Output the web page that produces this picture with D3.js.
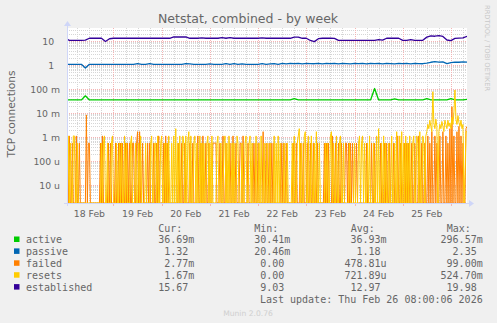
<!DOCTYPE html>
<html>
  <head>
    <meta charset="UTF-8" />
    <style>
      body {
        margin: 0;
        background: #f0f0f0;
      }
      svg text {
        font-family: 'DejaVu Sans', sans-serif;
        fill: #666;
      }
      svg text.mono {
        font-family: 'DejaVu Sans Mono', monospace;
        font-size: 10px;
      }
    </style>
  </head>
  <body>
    <svg></svg>

    <script src="https://d3js.org/d3.v7.min.js"></script>

    <script>
      // 2 hour samples, starting Feb 18 00:00 UTC
      let slowStart = Date.UTC(2026, 1, 18, 0, 0)
      let established = [
        13, 10.7, 10.7, 10.7, 10.7, 10.8, 13, 13, 13, 13, 9.6, 12.4,
        13, 13, 13, 13, 13, 13, 13, 13, 13, 13, 13, 13, 13, 13, 13,
        14.7, 14.7, 14.7, 14.7, 13,
        13, 13, 13.6, 13, 13, 13, 13, 13.8, 13, 13.8, 13, 13, 13, 13, 13, 13, 13, 13.5, 13, 13, 13, 13, 13, 13, 13,
        14.5, 14.5,
        13, 13, 10.5, 9.4, 12.5, 13, 13, 13, 12.8,
        10.7, 10.7, 10.7, 10.7, 10.7, 10.7, 10.7, 10.7, 10.7, 10.7,
        11.3, 10.8,
        13, 13, 13, 13,
        10.7, 10.7, 11.4, 10.7, 10.7, 10.7,
        14.5, 16.5, 15.8, 16.8, 15.5, 11, 10.4, 12.8, 13.3, 13.5, 15.67,
      ]
      let passive = [
        1.07, 1.07, 1.07, 1.07, 1.07, 0.75,
        1.07, 1.07, 1.07, 1.07, 1.07, 1.07, 1.07, 1.07, 1.07, 1.07, 1.07, 1.07,
        1.15, 1.07, 1.07, 1.15, 1.07, 1.07, 1.07, 1.07, 1.07, 1.07, 1.07, 1.07,
        1.15, 1.12, 1.07, 1.07, 1.07, 1.07, 1.12, 1.07, 1.07, 1.07, 1.15, 1.07,
        1.15, 1.07, 1.12, 1.07, 1.07, 1.07, 1.07, 1.15, 1.07, 1.12, 1.15, 1.07,
        1.17, 1.12, 1.18, 1.14, 1.17, 1.12, 1.18, 1.15, 1.13, 1.18, 1.12, 1.17,
        1.14, 1.18, 1.12, 1.17, 1.15, 1.12, 1.18, 1.13, 1.17, 1.12, 1.18, 1.14,
        1.17, 1.12, 1.18, 1.15, 1.12, 1.17, 1.14, 1.18, 1.12, 1.17, 1.15, 1.13, 1.2,
        1.3, 1.38, 1.33, 1.36, 1.15, 1.25, 1.33, 1.3, 1.36, 1.32,
      ]
      let active = [
        0.035, 0.035, 0.035, 0.035, 0.035, 0.052, 0.035, 0.035, 0.035, 0.035,
        0.035, 0.035, 0.035, 0.035, 0.035, 0.035, 0.035, 0.035, 0.035, 0.035,
        0.035, 0.035, 0.035, 0.035, 0.035, 0.035, 0.035, 0.035, 0.035, 0.035,
        0.035, 0.035, 0.035, 0.035, 0.035, 0.035, 0.035, 0.035, 0.035, 0.035,
        0.035, 0.035, 0.035, 0.035, 0.035, 0.035, 0.035, 0.035, 0.035, 0.035,
        0.035, 0.035, 0.035, 0.035, 0.035, 0.035, 0.035, 0.04, 0.035, 0.035,
        0.035, 0.035, 0.035, 0.035, 0.035, 0.035, 0.035, 0.035, 0.035, 0.035,
        0.035, 0.035, 0.035, 0.035, 0.035, 0.035, 0.035, 0.105, 0.035, 0.035,
        0.035, 0.035, 0.039, 0.035, 0.035, 0.035, 0.035, 0.035, 0.035, 0.035,
        0.04, 0.035, 0.035, 0.035, 0.035, 0.035, 0.04, 0.035, 0.035, 0.035,
        0.0367,
      ]

      // 30 minute samples (counts per step), starting Feb 18 00:30 UTC
      let fastStart = Date.UTC(2026, 1, 18, 0, 30)
      let STEP = 1800
      let failed = [
        0,1,0,2,0,0,1,0,0,0,2,0,0,1,0,0,0,0,0,0,
        15,0,1,1,0,0,0,0,0,0,0,0,0,0,1,0,2,0,0,0,
        0,0,1,0,1,0,0,0,0,1,0,0,1,0,1,0,1,0,0,1,
        0,1,0,1,0,0,1,1,0,0,1,3,0,3,0,0,1,0,0,0,
        0,1,0,1,0,0,0,1,0,0,1,0,2,0,0,0,0,1,0,2,
        0,1,0,0,0,0,0,0,0,0,0,0,1,0,0,1,0,0,1,0,
        0,0,0,1,0,0,1,0,0,0,0,2,0,0,1,0,2,0,0,1,
        0,0,1,0,0,0,1,1,1,1,0,0,0,1,0,0,2,0,0,1,
        0,0,0,1,0,0,2,0,0,1,0,0,0,1,1,0,2,0,0,0,
        0,1,0,0,0,0,1,0,1,0,0,1,0,0,0,0,3,0,0,1,
        0,0,1,0,1,0,1,0,0,0,0,0,0,0,1,0,1,0,0,1,
        0,0,0,0,0,0,1,0,0,1,0,0,0,1,0,0,1,0,0,0,
        1,0,0,1,0,0,1,0,0,0,1,0,0,0,0,0,0,1,0,1,
        0,1,0,0,0,2,0,0,1,0,0,1,0,0,1,0,0,0,1,1,
        0,1,0,1,0,1,0,0,0,1,0,0,0,0,0,0,0,0,0,1,
        0,0,0,0,1,0,0,1,0,0,0,0,0,1,0,0,0,1,0,1,
        0,0,1,0,0,0,1,0,0,0,2,0,0,1,0,0,0,1,0,1,
        0,1,0,0,1,0,0,1,0,0,0,2,0,0,1,0,0,1,0,0,
        2,0,1,0,3,0,0,2,0,1,0,0,2,0,0,3,0,0,2,0,
        1,0,4,0,33,0,2,0,0,3,0,5,0,2,0,1,0,0,4,5,
      ]
      let resets = [
        1,0,2,0,1,0,0,2,2,0,0,1,0,0,0,0,0,0,0,0,
        0,0,0,0,0,0,0,0,0,0,0,0,0,0,0,1,0,1,2,0,
        0,1,0,0,0,1,2,0,0,0,1,0,0,1,0,1,0,0,2,0,
        1,0,0,0,1,2,0,0,0,1,0,0,1,0,2,0,0,0,0,1,
        0,0,0,0,1,2,0,0,1,1,0,2,0,0,1,2,0,0,1,0,
        1,0,2,0,0,1,0,2,0,4,0,1,0,2,0,0,2,1,0,2,
        0,1,3,0,2,0,0,1,2,0,1,0,0,2,0,1,0,1,0,0,
        1,2,0,1,0,2,0,0,0,0,1,2,0,0,1,0,0,1,2,0,
        1,0,2,0,0,1,0,1,0,0,2,1,0,0,0,1,0,0,1,2,
        0,0,1,2,0,1,0,0,0,2,0,0,1,0,2,0,0,1,0,0,
        1,0,0,1,0,0,0,2,0,1,0,2,0,1,0,0,0,1,0,0,
        1,0,0,0,0,1,0,2,0,0,1,2,4,0,1,0,0,2,3,0,
        0,2,0,0,2,0,0,1,0,3,0,0,1,0,0,0,0,0,1,0,
        1,0,0,2,3,0,1,0,0,2,0,0,1,2,0,0,1,0,0,0,
        0,0,1,0,0,0,0,1,0,0,0,1,2,0,1,2,0,1,0,0,
        1,0,2,0,0,0,1,0,0,2,0,4,0,0,1,0,2,0,1,0,
        0,1,0,0,2,0,0,1,0,3,0,0,2,0,3,0,1,0,2,0,
        1,0,2,0,0,1,2,0,0,2,1,0,3,0,0,2,1,0,2,3,
        6,4,9,5,3,139,7,4,10,5,0,3,6,4,8,5,3,9,6,4,
        9,5,7,4,12,6,20,163,10,6,14,7,5,9,4,6,0,0.05,3,3,
      ]

      let yTickValues = [1e-5, 1e-4, 1e-3, 1e-2, 1e-1, 1, 10]
      let yTickLabels = ['10 u', '100 u', '1 m', '10 m', '100 m', '1', '10']
      let dayLabels = ['18 Feb', '19 Feb', '20 Feb', '21 Feb', '22 Feb', '23 Feb', '24 Feb', '25 Feb']

      let legendNames = ['active', 'passive', 'failed', 'resets', 'established']
      let legendColors = ['#00CC00', '#0066B3', '#FF8000', '#FFCC00', '#330099']
      let legendCur = ['36.69m', '1.32', '2.77m', '1.67m', '15.67']
      let legendMin = ['30.41m', '20.46m', '0.00', '0.00', '9.03']
      let legendAvg = ['36.93m', '1.18', '478.81u', '721.89u', '12.97']
      let legendMax = ['296.57m', '2.35', '99.00m', '524.70m', '19.98']

      let width = 497,
        height = 323
      let pL = 67,
        pR = 467,
        pT = 28,
        pB = 203

      let svg = d3.select('svg').attr('width', width).attr('height', height)
      svg.append('rect').attr('width', width).attr('height', height).attr('fill', '#f0f0f0')

      let x = d3
        .scaleUtc()
        .domain([new Date(Date.UTC(2026, 1, 18, 0, 51)), new Date(Date.UTC(2026, 1, 26, 8, 0))])
        .range([pL, pR])
      let y = d3
        .scaleLog()
        .domain([Math.pow(10, -5.75), Math.pow(10, 1 + 13 / 24)])
        .range([pB, pT])

      let yv = (v) => (v > 0 ? y(v) : pB)
      let crisp = (p) => Math.round(p) + 0.5

      svg.append('rect')
        .attr('x', pL).attr('y', pT)
        .attr('width', pR - pL).attr('height', pB - pT)
        .attr('fill', '#ffffff')

      // horizontal grid
      let grid = svg.append('g').attr('stroke-dasharray', '1,1').attr('stroke-width', 1)
      let minorY = []
      for (let e = -6; e <= 1; e++) {
        for (let m = 2; m <= 9; m++) {
          let v = m * Math.pow(10, e)
          if (y(v) > pT && y(v) < pB) minorY.push(v)
        }
      }
      grid.selectAll('.hmin').data(minorY).enter().append('line')
        .attr('x1', pL).attr('x2', pR)
        .attr('y1', (d) => crisp(y(d))).attr('y2', (d) => crisp(y(d)))
        .attr('stroke', '#d6d6d6')

      // vertical grid, every 6 hours
      let sixHours = d3.utcHour.every(6).range(x.domain()[0], x.domain()[1])
      grid.selectAll('.vmin').data(sixHours.filter((d) => d.getUTCHours() !== 0)).enter().append('line')
        .attr('x1', (d) => crisp(x(d))).attr('x2', (d) => crisp(x(d)))
        .attr('y1', pT).attr('y2', pB)
        .attr('stroke', '#d6d6d6')

      grid.selectAll('.hmaj').data(yTickValues).enter().append('line')
        .attr('x1', pL).attr('x2', pR)
        .attr('y1', (d) => crisp(y(d))).attr('y2', (d) => crisp(y(d)))
        .attr('stroke', '#f4b4b4')
      let midnights = sixHours.filter((d) => d.getUTCHours() === 0)
      grid.selectAll('.vmaj').data(midnights).enter().append('line')
        .attr('x1', (d) => crisp(x(d))).attr('x2', (d) => crisp(x(d)))
        .attr('y1', pT).attr('y2', pB)
        .attr('stroke', '#f4b4b4')

      // data lines
      svg.append('clipPath').attr('id', 'plot')
        .append('rect').attr('x', pL).attr('y', pT - 1)
        .attr('width', pR - pL).attr('height', pB - pT + 1)

      let line = d3.line().x((d) => x(d.t)).y((d) => yv(d.v))
      let slow = (arr) => arr.map((v, i) => ({ t: new Date(slowStart + i * 7200e3), v: v }))
      let fast = (arr) => arr.map((c, i) => ({ t: new Date(fastStart + i * STEP * 1000), v: c / STEP }))

      let series = [
        { data: slow(active), color: legendColors[0], w: 1.3 },
        { data: slow(passive), color: legendColors[1], w: 1.3 },
        { data: fast(failed), color: legendColors[2], w: 1 },
        { data: fast(resets), color: legendColors[3], w: 1 },
        { data: slow(established), color: legendColors[4], w: 1.3 },
      ]
      let plot = svg.append('g').attr('clip-path', 'url(#plot)')
      plot.selectAll('path').data(series).enter().append('path')
        .attr('d', (d) => line(d.data))
        .attr('fill', 'none')
        .attr('stroke', (d) => d.color)
        .attr('stroke-width', (d) => d.w)
        .attr('stroke-linejoin', 'round')

      // axes
      let axisColor = '#CFD6F8'
      svg.append('line').attr('x1', pL - 3).attr('x2', pR + 3)
        .attr('y1', pB + 0.5).attr('y2', pB + 0.5).attr('stroke', axisColor)
      svg.append('path').attr('d', `M${pR + 2},${pB - 3}L${pR + 7},${pB + 0.5}L${pR + 2},${pB + 4}Z`)
        .attr('fill', axisColor)
      svg.append('line').attr('x1', pL + 0.5).attr('x2', pL + 0.5)
        .attr('y1', pB + 3).attr('y2', pT - 2).attr('stroke', axisColor)
      svg.append('path').attr('d', `M${pL - 3},${pT - 2}L${pL + 0.5},${pT - 7}L${pL + 4},${pT - 2}Z`)
        .attr('fill', axisColor)

      svg.selectAll('.tickx').data(midnights).enter().append('line')
        .attr('x1', (d) => crisp(x(d))).attr('x2', (d) => crisp(x(d)))
        .attr('y1', pB + 1).attr('y2', pB + 3).attr('stroke', '#f4b4b4')

      // tick labels
      svg.selectAll('.ylab').data(yTickValues).enter().append('text')
        .attr('x', 60)
        .attr('y', (d) => crisp(y(d)) + 3.3)
        .attr('text-anchor', 'end')
        .attr('font-size', 9.3)
        .style('white-space', 'pre')
        .text((d, i) => (yTickLabels[i].includes(' ') ? yTickLabels[i] : yTickLabels[i] + '  '))

      svg.selectAll('.xlab').data(dayLabels).enter().append('text')
        .attr('x', (d, i) => x(new Date(Date.UTC(2026, 1, 18 + i, 12))))
        .attr('y', 216.5)
        .attr('text-anchor', 'middle')
        .attr('font-size', 9.3)
        .text((d) => d)

      // titles
      svg.append('text').attr('x', 248).attr('y', 22.5).attr('text-anchor', 'middle')
        .attr('font-size', 12.5).text('Netstat, combined - by week')
      svg.append('text').attr('transform', 'translate(15,114) rotate(-90)')
        .attr('text-anchor', 'middle').attr('font-size', 10.6).text('TCP connections')
      svg.append('text').attr('transform', 'translate(485,5) rotate(90)')
        .attr('font-size', 6.7).style('fill', '#c8c8c8').text('RRDTOOL / TOBI OETIKER')
      svg.append('text').attr('x', 248).attr('y', 315.5).attr('text-anchor', 'middle')
        .attr('font-size', 7.6).style('fill', '#cfcfcf').text('Munin 2.0.76')

      // legend
      let columns = [
        { head: 'Cur:', hx: 158.3, end: 188.3, vals: legendCur },
        { head: 'Min:', hx: 254.3, end: 284.3, vals: legendMin },
        { head: 'Avg:', hx: 350.7, end: 380.5, vals: legendAvg },
        { head: 'Max:', hx: 446.7, end: 476.7, vals: legendMax },
      ]
      let rowY = (i) => 243 + i * 11.9
      let legend = svg.append('g')
      columns.forEach((c) => {
        legend.append('text').attr('class', 'mono').attr('x', c.hx).attr('y', 231.8).text(c.head)
        c.vals.forEach((s, i) => {
          let m = s.match(/^([\d.]+)(\D?)$/)
          legend.append('text').attr('class', 'mono').attr('x', c.end).attr('y', rowY(i))
            .attr('text-anchor', 'end').text(m[1])
          if (m[2]) legend.append('text').attr('class', 'mono').attr('x', c.end).attr('y', rowY(i)).text(m[2])
        })
      })
      legendNames.forEach((n, i) => {
        legend.append('rect').attr('x', 14).attr('y', rowY(i) - 6.5)
          .attr('width', 5.5).attr('height', 5.5).attr('fill', legendColors[i])
        legend.append('text').attr('class', 'mono').attr('x', 26).attr('y', rowY(i)).text(n)
      })
      legend.append('text').attr('class', 'mono').attr('x', 482.7).attr('y', rowY(5))
        .attr('text-anchor', 'end').text('Last update: Thu Feb 26 08:00:06 2026')
    </script>
  </body>
</html>
